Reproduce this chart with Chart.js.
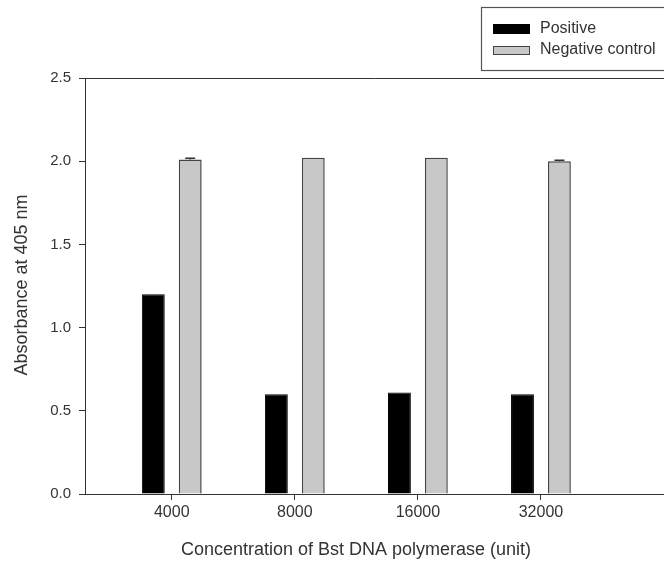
<!DOCTYPE html>
<html>
<head>
<meta charset="utf-8">
<script src="https://cdn.jsdelivr.net/npm/chart.js@4"></script>
<style>
  body { margin: 0; background: #fff; }
  #wrap { width: 664px; height: 565px; }
</style>
</head>
<body>
<div id="wrap"><canvas id="myChart"></canvas></div>
<script>
var categories = ["4000", "8000", "16000", "32000"];
var positive = [1.20, 0.60, 0.61, 0.60];
var negative = [2.01, 2.02, 2.02, 2.00];
var positiveErr = [0, 0, 0, 0];
var negativeErr = [0.008, 0, 0, 0.006];
var yTicks = [0, 0.5, 1.0, 1.5, 2.0, 2.5];

var FONT = "'Liberation Sans', Arial, sans-serif";

function toPoints(arr) {
    return arr.map(function (v, i) { return { x: i, y: v }; });
}

// error caps, frame line, titles and legend box
var extras = {
    id: 'extras',
    afterDatasetsDraw: function (chart) {
        var c = chart.ctx;
        var errs = [positiveErr, negativeErr];
        c.save();
        c.strokeStyle = '#333';
        c.lineWidth = 1.5;
        chart.data.datasets.forEach(function (ds, di) {
            var meta = chart.getDatasetMeta(di);
            meta.data.forEach(function (bar, i) {
                if (!errs[di][i]) return;
                var yTop = chart.scales.y.getPixelForValue(ds.data[i].y + errs[di][i]);
                c.beginPath();
                c.moveTo(bar.x, bar.y);
                c.lineTo(bar.x, yTop);
                c.moveTo(bar.x - 5, yTop);
                c.lineTo(bar.x + 5, yTop);
                c.stroke();
            });
        });
        c.restore();
    },
    afterDraw: function (chart) {
        var c = chart.ctx;
        var a = chart.chartArea;
        c.save();
        // top frame line
        c.strokeStyle = '#333';
        c.lineWidth = 1;
        c.beginPath();
        c.moveTo(a.left, a.top + 0.5);
        c.lineTo(a.right, a.top + 0.5);
        c.stroke();

        // axis titles
        c.fillStyle = '#333';
        c.font = '18px ' + FONT;
        c.textAlign = 'center';
        c.textBaseline = 'middle';
        c.fillText('Concentration of Bst DNA polymerase (unit)', 356, 550);
        c.translate(22, 285);
        c.rotate(-Math.PI / 2);
        c.fillText('Absorbance at 405 nm', 0, 0);
        c.restore();

        // legend
        c.save();
        c.fillStyle = '#fff';
        c.fillRect(481, 7, 190, 63);
        c.strokeStyle = '#555';
        c.lineWidth = 1.2;
        c.strokeRect(481.5, 7.5, 190, 63);
        c.fillStyle = '#000';
        c.fillRect(493, 24, 37, 10);
        c.fillStyle = '#c8c8c8';
        c.fillRect(493, 46, 37, 8);
        c.strokeStyle = '#444';
        c.lineWidth = 1;
        c.strokeRect(493.5, 46.5, 36, 8);
        c.fillStyle = '#333';
        c.font = '16px ' + FONT;
        c.textAlign = 'left';
        c.textBaseline = 'middle';
        c.fillText('Positive', 540, 29);
        c.fillText('Negative control', 540, 50);
        c.restore();
    }
};

var ctx = document.getElementById("myChart").getContext("2d");
var myChart = new Chart(ctx, {
    type: 'bar',
    data: {
        datasets: [{
            label: 'Positive',
            data: toPoints(positive),
            backgroundColor: '#000000',
            borderColor: '#000000',
            borderWidth: 1,
            categoryPercentage: 0.6,
            barPercentage: 0.62
        }, {
            label: 'Negative control',
            data: toPoints(negative),
            backgroundColor: '#c8c8c8',
            borderColor: '#444444',
            borderWidth: 1.5,
            categoryPercentage: 0.6,
            barPercentage: 0.62
        }]
    },
    options: {
        responsive: true,
        maintainAspectRatio: false,
        animation: false,
        layout: { padding: { top: 78, right: 0, left: 0, bottom: 0 } },
        plugins: {
            legend: { display: false },
            tooltip: { enabled: false }
        },
        scales: {
            x: {
                type: 'linear',
                min: -0.705,
                max: 4.0,
                offset: false,
                afterBuildTicks: function (scale) {
                    scale.ticks = categories.map(function (c, i) { return { value: i }; });
                },
                afterFit: function (scale) { scale.height = 71; },
                grid: {
                    offset: false,
                    drawOnChartArea: false,
                    drawTicks: true,
                    tickLength: 6,
                    color: '#333'
                },
                border: { display: true, color: '#333', width: 1 },
                ticks: {
                    color: '#333',
                    font: { family: FONT, size: 16 },
                    padding: 3,
                    maxRotation: 0,
                    callback: function (v) { return categories[v]; }
                }
            },
            y: {
                min: 0,
                max: 2.5,
                afterBuildTicks: function (scale) {
                    scale.ticks = yTicks.map(function (v) { return { value: v }; });
                },
                afterFit: function (scale) { scale.width = 85; },
                grid: {
                    drawOnChartArea: false,
                    drawTicks: true,
                    tickLength: 6,
                    color: '#333'
                },
                border: { display: true, color: '#333', width: 1 },
                ticks: {
                    color: '#333',
                    font: { family: FONT, size: 15 },
                    padding: 8,
                    callback: function (v) { return v.toFixed(1); }
                }
            }
        }
    },
    plugins: [extras]
});
</script>
</body>
</html>
